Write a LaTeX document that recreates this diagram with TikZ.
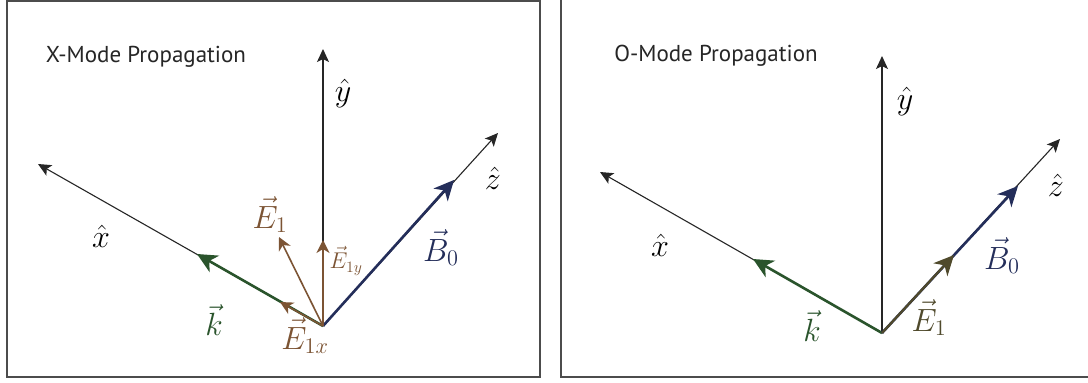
\documentclass[tikz,border=0pt]{standalone}
\usepackage{amsmath}
\usepackage{fontspec}
\usepackage{tikz}
\usetikzlibrary{arrows.meta}
\newfontfamily\modefont{PT Sans}
\definecolor{kgreen}{RGB}{42,84,44}
\definecolor{bblue}{RGB}{36,46,90}
\definecolor{ebrown}{RGB}{124,84,52}
\definecolor{eolive}{RGB}{80,74,44}
\tikzset{
  framebox/.style={draw=black!70, line width=1.4pt},
  axisline/.style={-{Stealth[length=13pt,width=12pt,inset=3pt]}, line width=1.1pt, black!85},
  vecline/.style={-{Stealth[length=20pt,width=19pt,inset=6pt]}, line width=2.6pt},
  compline/.style={-{Stealth[length=13pt,width=13pt,inset=4pt]}, line width=1.6pt, ebrown},
  modetitle/.style={font=\modefont\fontsize{23}{27}\selectfont, text=black!85},
  veclabel/.style={font=\fontsize{20.74}{25}\selectfont, scale=1.55},
  complabel/.style={font=\fontsize{20.74}{25}\selectfont, scale=1.1}
}

\begin{document}
\begin{tikzpicture}[x=1pt, y=-1pt]
  \useasboundingbox (0,0) rectangle (1088,383);
  \clip (0,0) rectangle (1088,383);
  \fill[white] (0,0) rectangle (1088,383);

  % X-mode panel
  \draw[framebox] (7,1) rectangle (540,377);
  \node[modetitle] (titleX) at (146,57) {X-Mode Propagation};
  \coordinate (oX) at (323,326);
  \coordinate (xtipX) at (38,164);
  \coordinate (ytipX) at (323,49);
  \coordinate (ztipX) at (498,133);
  \coordinate (ktipX) at (197,254);
  \coordinate (btipX) at (454,180);
  \coordinate (extipX) at (280,302);
  \coordinate (eytipX) at (323,240);
  \coordinate (etipX) at (279,237);
  \draw[axisline] (oX) -- (xtipX);
  \draw[axisline] (oX) -- (ytipX);
  \draw[axisline] (oX) -- (ztipX);
  \draw[vecline, kgreen] (oX) -- (ktipX);
  \draw[vecline, bblue] (oX) -- (btipX);
  \draw[compline] (oX) -- (extipX);
  \draw[compline] (oX) -- (eytipX);
  \draw[compline] (oX) -- (etipX);
  \node[veclabel] (xhatX) at (101,236) {$\hat{x}$};
  \node[veclabel] (yhatX) at (343,93) {$\hat{y}$};
  \node[veclabel] (zhatX) at (493,178) {$\hat{z}$};
  \node[veclabel, text=kgreen] (klabX) at (214,320) {$\vec{k}$};
  \node[veclabel, text=bblue] (blabX) at (441,248) {$\vec{B}_0$};
  \node[veclabel, text=ebrown] (elabX) at (270,215) {$\vec{E}_1$};
  \node[complabel, text=ebrown] (eylabX) at (346,261) {$\vec{E}_{1y}$};
  \node[veclabel, text=ebrown] (exlabX) at (305,336) {$\vec{E}_{1x}$};

  % O-mode panel
  \draw[framebox] (561,-20) rectangle (1110,377);
  \node[modetitle] (titleO) at (716,56) {O-Mode Propagation};
  \coordinate (oO) at (882,333);
  \coordinate (xtipO) at (600,172);
  \coordinate (ytipO) at (882,56);
  \coordinate (ztipO) at (1060,139);
  \coordinate (ktipO) at (753,259);
  \coordinate (btipO) at (1018,186);
  \coordinate (etipO) at (954,255);
  \draw[axisline] (oO) -- (xtipO);
  \draw[axisline] (oO) -- (ytipO);
  \draw[axisline] (oO) -- (ztipO);
  \draw[vecline, kgreen] (oO) -- (ktipO);
  \draw[vecline, bblue] (oO) -- (btipO);
  \draw[vecline, eolive, line width=2.2pt] (oO) -- (etipO);
  \node[veclabel] (xhatO) at (660,245) {$\hat{x}$};
  \node[veclabel] (yhatO) at (905,101) {$\hat{y}$};
  \node[veclabel] (zhatO) at (1056,185) {$\hat{z}$};
  \node[veclabel, text=kgreen] (klabO) at (812,326) {$\vec{k}$};
  \node[veclabel, text=bblue] (blabO) at (1002,256) {$\vec{B}_0$};
  \node[veclabel, text=eolive] (elabO) at (929,318) {$\vec{E}_1$};
\end{tikzpicture}
\end{document}
